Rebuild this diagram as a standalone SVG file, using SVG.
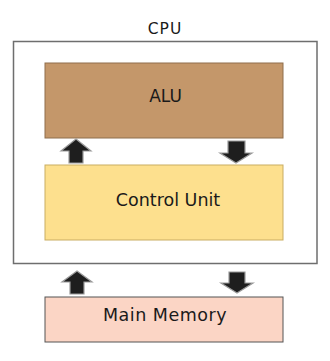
<svg xmlns="http://www.w3.org/2000/svg" width="330" height="361" viewBox="0 0 330 361">
<style>
text{font-family:"DejaVu Sans","Liberation Sans",sans-serif;fill:#1a1a1a;text-anchor:middle;dominant-baseline:central}
.arrow{fill:#1e1e1e;stroke:#9a9a9a;stroke-width:1.2;stroke-linejoin:miter}
</style>
<rect width="330" height="361" fill="#ffffff"/>
<g id="cpu">
<rect x="13.5" y="41.5" width="303.5" height="222" fill="#ffffff" stroke="#6e6e6e" stroke-width="1.5"/>
<text x="165" y="29" font-size="15.5" letter-spacing="1">CPU</text>
</g>
<g id="alu">
<rect x="45" y="63" width="238" height="75" fill="#c4976a" stroke="#8f6e4c" stroke-width="1"/>
<text x="165.5" y="96" font-size="17">ALU</text>
</g>
<g id="control-unit">
<rect x="45" y="165" width="238" height="75" fill="#fde08e" stroke="#c9ad62" stroke-width="1"/>
<text x="168" y="200" font-size="17.5">Control Unit</text>
</g>
<g id="main-memory">
<rect x="45" y="297" width="238" height="45" fill="#fbd5c5" stroke="#555555" stroke-width="1"/>
<text x="165" y="315" font-size="17.5" letter-spacing="0.5">Main Memory</text>
</g>
<g id="connectors">
<polygon class="arrow" points="76,139 91,151 83,151 83,163 69,163 69,151 61,151"/>
<polygon class="arrow" points="228,141 245,141 245,153 252,153 236,163 220,153 228,153"/>
<polygon class="arrow" points="77,271 92,282 84,282 84,294 70,294 70,282 62,282"/>
<polygon class="arrow" points="229,272 245,272 245,283 253,283 237,293 221,283 229,283"/>
</g>
</svg>
